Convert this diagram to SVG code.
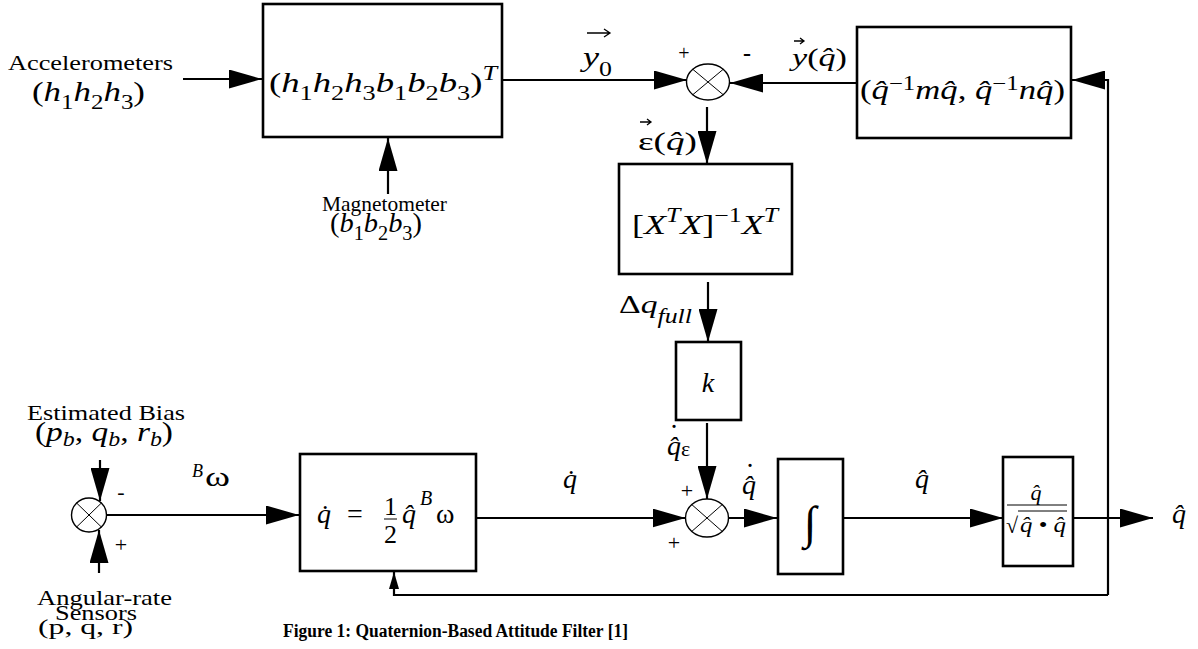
<svg xmlns="http://www.w3.org/2000/svg" width="1198" height="649" viewBox="0 0 1198 649">
<defs>
<marker id="ah" viewBox="0 0 33 19" markerWidth="33" markerHeight="19" refX="33" refY="9.5" orient="auto" markerUnits="userSpaceOnUse"><path d="M0,0 L33,9.5 L0,19 Z" fill="#000"/></marker>
<marker id="ahs" viewBox="0 0 17 10" markerWidth="17" markerHeight="10" refX="17" refY="5" orient="auto" markerUnits="userSpaceOnUse"><path d="M0,0 L17,5 L0,10 Z" fill="#000"/></marker>
<style>
.box{fill:#fff;stroke:#000;stroke-width:2.6}
.ln{fill:none;stroke:#000;stroke-width:2.2}
.sum{fill:#fff;stroke:#000;stroke-width:1.4}
.x{stroke:#000;stroke-width:1}
.acc{fill:none;stroke:#000;stroke-width:1.3}
text{font-family:"Liberation Serif","Times New Roman",serif;fill:#000}
.i{font-style:italic}
.lab{font-size:21px}
.dot{font-size:30px;text-anchor:middle}
</style>
</defs>
<rect width="1198" height="649" fill="#fff"/>

<g id="connectors">
<path class="ln" d="M183,79 H262" marker-end="url(#ah)"/>
<path class="ln" d="M388,194 V138" marker-end="url(#ah)"/>
<path class="ln" d="M502,80 H687" marker-end="url(#ah)"/>
<path class="ln" d="M857,83 H730" marker-end="url(#ah)"/>
<path class="ln" d="M707,107 V164" marker-end="url(#ah)"/>
<path class="ln" d="M708,282 V342" marker-end="url(#ah)"/>
<path class="ln" d="M707,423 V499" marker-end="url(#ah)"/>
<path class="ln" d="M107,515 H299" marker-end="url(#ah)"/>
<path class="ln" d="M100,460 V501" marker-end="url(#ah)"/>
<path class="ln" d="M99,573 V530" marker-end="url(#ah)"/>
<path class="ln" d="M476,518 H685.5" marker-end="url(#ah)"/>
<path class="ln" d="M728.5,518 H777" marker-end="url(#ah)"/>
<path class="ln" d="M843,518 H1003" marker-end="url(#ah)"/>
<path class="ln" d="M1073,518 H1153" marker-end="url(#ah)"/>
<path class="ln" d="M1108,595 V80 H1072" marker-end="url(#ah)"/>
<path class="ln" d="M1108,595 H394 V572" marker-end="url(#ahs)"/>
</g>

<g id="accelerometers">
<text class="lab" x="8" y="70" textLength="165" lengthAdjust="spacingAndGlyphs">Accelerometers</text>
<text x="32" y="101" font-size="28" textLength="113" lengthAdjust="spacingAndGlyphs">(<tspan class="i">h</tspan><tspan font-size="20" dy="8">1</tspan><tspan class="i" dy="-8">h</tspan><tspan font-size="20" dy="8">2</tspan><tspan class="i" dy="-8">h</tspan><tspan font-size="20" dy="8">3</tspan><tspan dy="-8">)</tspan></text>
</g>

<g id="magnetometer">
<text class="lab" x="322" y="211" textLength="125" lengthAdjust="spacingAndGlyphs">Magnetometer</text>
<text x="330" y="232" font-size="28" textLength="92" lengthAdjust="spacingAndGlyphs">(<tspan class="i">b</tspan><tspan font-size="20" dy="8">1</tspan><tspan class="i" dy="-8">b</tspan><tspan font-size="20" dy="8">2</tspan><tspan class="i" dy="-8">b</tspan><tspan font-size="20" dy="8">3</tspan><tspan dy="-8">)</tspan></text>
</g>

<g id="measurement">
<rect class="box" x="263" y="4" width="239" height="133"/>
<text x="269" y="92" font-size="28" textLength="228" lengthAdjust="spacingAndGlyphs">(<tspan class="i">h</tspan><tspan font-size="20" dy="8">1</tspan><tspan class="i" dy="-8">h</tspan><tspan font-size="20" dy="8">2</tspan><tspan class="i" dy="-8">h</tspan><tspan font-size="20" dy="8">3</tspan><tspan class="i" dy="-8">b</tspan><tspan font-size="20" dy="8">1</tspan><tspan class="i" dy="-8">b</tspan><tspan font-size="20" dy="8">2</tspan><tspan class="i" dy="-8">b</tspan><tspan font-size="20" dy="8">3</tspan><tspan dy="-8">)</tspan><tspan class="i" font-size="20" dy="-12">T</tspan></text>
</g>

<g id="label-y0">
<text x="583" y="66" font-size="28" class="i" textLength="29" lengthAdjust="spacingAndGlyphs">y<tspan font-style="normal" font-size="20" dy="10">0</tspan></text>
<path class="acc" d="M587,33 H610 M604,29 L610,33 L604,37"/>
</g>

<g id="sum-top">
<ellipse class="sum" cx="708" cy="82" rx="21.5" ry="18"/>
<path class="x" d="M692.8,69.3 L723.2,94.7 M723.2,69.3 L692.8,94.7"/>
<text x="684" y="60" font-size="20" text-anchor="middle">+</text>
<text x="747" y="61" font-size="24" font-weight="bold" text-anchor="middle">-</text>
</g>

<g id="label-yhat">
<text x="792" y="66" font-size="26" textLength="55" lengthAdjust="spacingAndGlyphs"><tspan class="i">y</tspan>(<tspan class="i">q̂</tspan>)</text>
<path class="acc" d="M794,41 H804 M800,38 L804,41 L800,44"/>
</g>

<g id="inverse">
<rect class="box" x="857" y="27" width="214" height="111"/>
<text x="860" y="99" font-size="28" textLength="205" lengthAdjust="spacingAndGlyphs">(<tspan class="i">q̂</tspan><tspan font-size="20" dy="-9">−1</tspan><tspan class="i" dy="9">mq̂</tspan>, <tspan class="i">q̂</tspan><tspan font-size="20" dy="-9">−1</tspan><tspan class="i" dy="9">nq̂</tspan>)</text>
</g>

<g id="label-eps">
<text x="638" y="150" font-size="26" textLength="59" lengthAdjust="spacingAndGlyphs">ε(<tspan class="i">q̂</tspan>)</text>
<path class="acc" d="M640,122 H651 M647,119 L651,122 L647,125"/>
</g>

<g id="pseudoinverse">
<rect class="box" x="619" y="164" width="173" height="110"/>
<text x="632" y="234" font-size="28" textLength="146" lengthAdjust="spacingAndGlyphs">[<tspan class="i">X</tspan><tspan class="i" font-size="20" dy="-12">T</tspan><tspan class="i" dy="12">X</tspan>]<tspan font-size="20" dy="-12">−1</tspan><tspan class="i" dy="12">X</tspan><tspan class="i" font-size="20" dy="-12">T</tspan></text>
</g>

<g id="label-dq">
<text x="619" y="313" font-size="26" textLength="73" lengthAdjust="spacingAndGlyphs">Δ<tspan class="i">q</tspan><tspan class="i" font-size="20" dy="10">full</tspan></text>
</g>

<g id="gain">
<rect class="box" x="676" y="342" width="65" height="78"/>
<text x="708" y="392" font-size="28" class="i" text-anchor="middle">k</text>
</g>

<g id="label-qeps">
<text x="667" y="455" font-size="28" class="i">q̂<tspan font-style="normal" font-size="22" dy="1">ε</tspan></text>
<text class="dot" x="674" y="445">˙</text>
</g>

<g id="bias">
<text class="lab" x="27" y="420" textLength="158" lengthAdjust="spacingAndGlyphs">Estimated Bias</text>
<text x="35" y="441" font-size="28" textLength="138" lengthAdjust="spacingAndGlyphs">(<tspan class="i">p</tspan><tspan class="i" font-size="20" dy="5">b</tspan><tspan dy="-5">, </tspan><tspan class="i">q</tspan><tspan class="i" font-size="20" dy="5">b</tspan><tspan dy="-5">, </tspan><tspan class="i">r</tspan><tspan class="i" font-size="20" dy="5">b</tspan><tspan dy="-5">)</tspan></text>
</g>

<g id="sum-left">
<ellipse class="sum" cx="89" cy="515" rx="17.5" ry="17"/>
<path class="x" d="M76.6,503 L101.4,527 M101.4,503 L76.6,527"/>
<text x="121" y="499" font-size="22" text-anchor="middle">-</text>
<text x="121" y="552" font-size="22" text-anchor="middle">+</text>
</g>

<g id="sensors">
<text class="lab" x="37" y="605" textLength="135" lengthAdjust="spacingAndGlyphs">Angular-rate</text>
<text class="lab" x="55" y="620" textLength="82" lengthAdjust="spacingAndGlyphs">Sensors</text>
<text class="lab" x="38" y="634" textLength="95" lengthAdjust="spacingAndGlyphs">(p, q, r)</text>
</g>

<g id="label-bomega">
<text x="192" y="477" font-size="18" class="i">B</text>
<text x="205" y="486" font-size="28" textLength="25" lengthAdjust="spacingAndGlyphs">ω</text>
</g>

<g id="kinematics">
<rect class="box" x="300" y="454" width="176" height="117"/>
<text font-size="28"><tspan class="i" x="317" y="523">q̇</tspan><tspan x="347" y="523">=</tspan><tspan x="384" y="515" font-size="26">1</tspan><tspan x="384" y="543" font-size="26">2</tspan><tspan class="i" x="402" y="523">q̂</tspan><tspan class="i" x="420" y="505" font-size="20">B</tspan><tspan x="436" y="523">ω</tspan></text>
<path class="x" d="M384,519 H397"/>
</g>

<g id="label-qdot">
<text x="563" y="488" font-size="28" class="i">q̇</text>
</g>

<g id="sum-bottom">
<ellipse class="sum" cx="707" cy="518" rx="21.5" ry="19"/>
<path class="x" d="M691.8,504.6 L722.2,531.4 M722.2,504.6 L691.8,531.4"/>
<text x="687" y="498" font-size="22" text-anchor="middle">+</text>
<text x="674" y="550" font-size="22" text-anchor="middle">+</text>
</g>

<g id="label-qhatdot">
<text x="742" y="494" font-size="28" class="i">q̂</text>
<text class="dot" x="750" y="484">˙</text>
</g>

<g id="integrator">
<rect class="box" x="778" y="459" width="65" height="115"/>
<text x="810" y="538" font-size="46" text-anchor="middle">∫</text>
</g>

<g id="label-qhat">
<text x="915" y="488" font-size="28" class="i">q̂</text>
</g>

<g id="normalize">
<rect class="box" x="1003" y="457" width="70" height="109"/>
<text x="1036" y="500" font-size="22" class="i" text-anchor="middle">q̂</text>
<path class="x" d="M1007,505 H1067"/>
<text x="1006" y="533" font-size="22">√</text>
<path class="x" d="M1018,511 H1067"/>
<text x="1020" y="532" font-size="22" textLength="46" lengthAdjust="spacingAndGlyphs"><tspan class="i">q̂</tspan> • <tspan class="i">q̂</tspan></text>
</g>

<g id="output">
<text x="1172" y="523" font-size="28" class="i">q̂</text>
</g>

<g id="caption">
<text x="283" y="637" font-size="18.5" font-weight="bold" textLength="345" lengthAdjust="spacingAndGlyphs">Figure 1: Quaternion-Based Attitude Filter [1]</text>
</g>
</svg>
